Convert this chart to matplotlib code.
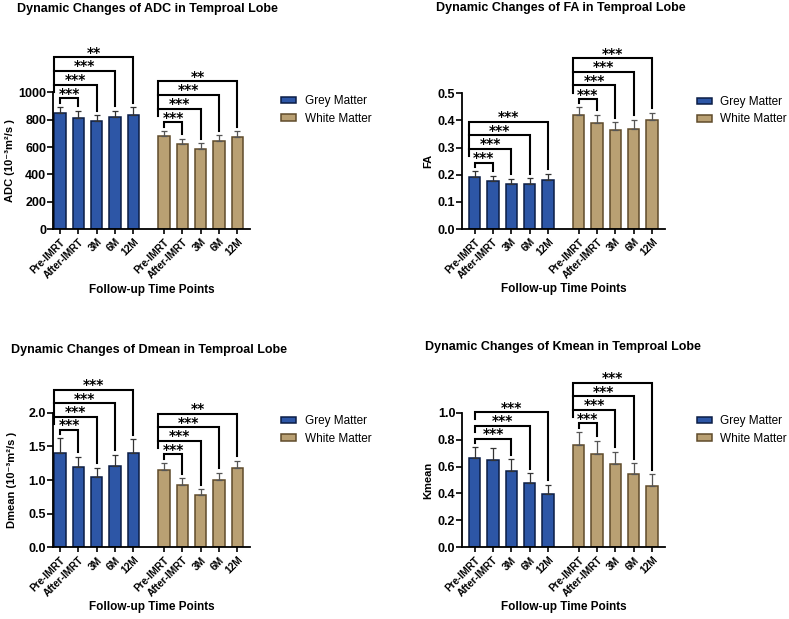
import matplotlib.pyplot as plt
import numpy as np

plt.rcParams['font.family'] = ['Liberation Sans', 'DejaVu Sans']

time_points = ["Pre-IMRT", "After-IMRT", "3M", "6M", "12M"]
groups = ["Grey Matter", "White Matter"]

# ADC
adc_grey = [846, 814, 788, 817, 834]
adc_grey_sd = [49, 49, 44, 46, 56]
adc_white = [680, 622, 585, 644, 675]
adc_white_sd = [39, 39, 42, 41, 40]
adc_grey_sig = ["***", "***", "***", "**"]
adc_white_sig = ["***", "***", "***", "**"]

# FA
fa_grey = [0.193, 0.177, 0.165, 0.166, 0.181]
fa_grey_sd = [0.021, 0.019, 0.020, 0.021, 0.022]
fa_white = [0.420, 0.389, 0.365, 0.368, 0.402]
fa_white_sd = [0.028, 0.031, 0.028, 0.034, 0.027]
fa_grey_sig = ["***", "***", "***", "***"]
fa_white_sig = ["***", "***", "***", "***"]

# Dmean
dmean_grey = [1.397, 1.198, 1.040, 1.208, 1.397]
dmean_grey_sd = [0.223, 0.148, 0.143, 0.163, 0.208]
dmean_white = [1.149, 0.926, 0.772, 1.000, 1.178]
dmean_white_sd = [0.108, 0.099, 0.090, 0.109, 0.104]
dmean_grey_sig = ["***", "***", "***", "***"]
dmean_white_sig = ["***", "***", "***", "**"]

# Kmean
kmean_grey = [0.661, 0.649, 0.569, 0.475, 0.394]
kmean_grey_sd = [0.082, 0.086, 0.085, 0.075, 0.069]
kmean_white = [0.760, 0.693, 0.619, 0.542, 0.458]
kmean_white_sd = [0.099, 0.097, 0.091, 0.082, 0.084]
kmean_grey_sig = [None, "***", "***", "***"]
kmean_white_sig = ["***", "***", "***", "***"]

blue, blue_edge = "#2d56a6", "#0b1d45"
tan, tan_edge = "#b9a073", "#5f4b2b"
bar_w = 0.62
xg = np.arange(5)
xw = xg + 5.67


def add_brackets(ax, x, tops, sig, ymax):
    step = 0.1 * ymax
    has_first = sig[0] is not None
    left_outer = x[0] - bar_w / 2 if has_first else x[0]
    h = None
    for k in range(1, 5):
        s = sig[k - 1]
        if s is None:
            continue
        if h is None:
            h = max(tops[:k + 1]) + 0.062 * ymax
        else:
            h = h + step
        xl = x[0] if k == 1 else left_outer
        xr = x[k]
        right_end = tops[k] + 0.035 * ymax
        if k == 1 or not has_first:
            left_end = max(h - 0.05 * ymax, tops[0] + 0.03 * ymax)
        elif k == 2:
            left_end = h - 0.055 * ymax
        else:
            left_end = h - step
        ax.plot([xl, xl, xr, xr], [left_end, h, h, right_end], color="black",
                lw=1.5, clip_on=False, solid_joinstyle="miter", zorder=5)
        ax.text((xl + xr) / 2, h + 0.004 * ymax, s, ha="center", va="baseline",
                family="DejaVu Sans", fontweight="bold", fontsize=10, clip_on=False)


def draw_panel(ax, grey, grey_sd, white, white_sd, grey_sig, white_sig,
               ymax, ystep, ylabel, x_left, ylabel_x):
    zeros = [0] * 5
    ax.bar(xg, grey, width=bar_w, color=blue, edgecolor=blue_edge, linewidth=1.1,
           yerr=[zeros, grey_sd], label=groups[0],
           error_kw=dict(ecolor="#333333", elinewidth=0.9, capsize=2.5, capthick=0.9))
    ax.bar(xw, white, width=bar_w, color=tan, edgecolor=tan_edge, linewidth=1.1,
           yerr=[zeros, white_sd], label=groups[1],
           error_kw=dict(ecolor="#555555", elinewidth=0.9, capsize=2.5, capthick=0.9))
    add_brackets(ax, xg, np.array(grey) + np.array(grey_sd), grey_sig, ymax)
    add_brackets(ax, xw, np.array(white) + np.array(white_sd), white_sig, ymax)

    ax.set_xlim(x_left, xw[-1] + 0.7)
    ax.set_ylim(0, ymax)
    yt = np.arange(0, ymax + ystep / 2, ystep)
    ax.set_yticks(yt)
    if ymax < 10:
        ax.set_yticklabels([f"{v:.1f}" for v in yt])
    ax.set_xticks(np.concatenate([xg, xw]))
    ax.set_xticklabels(time_points * 2, rotation=45, ha="right", rotation_mode="anchor",
                       fontsize=7.3, fontweight="bold")
    for t in ax.get_yticklabels():
        t.set_fontweight("bold")
        t.set_fontsize(9)
    ax.tick_params(axis="y", width=1.2, length=4, color="black", pad=1)
    ax.tick_params(axis="x", width=1.2, length=3.5, color="black", pad=2)
    ax.spines["top"].set_visible(False)
    ax.spines["right"].set_visible(False)
    ax.spines["left"].set_linewidth(1.3)
    ax.spines["bottom"].set_linewidth(1.3)
    ax.set_ylabel(ylabel, fontsize=8, fontweight="bold")
    ax.yaxis.set_label_coords(ylabel_x, 0.5)
    ax.set_xlabel("Follow-up Time Points", fontsize=8.5, fontweight="bold")
    ax.xaxis.set_label_coords(0.5, -0.40)
    ax.legend(loc="center left", bbox_to_anchor=(1.157, 0.872), frameon=False,
              fontsize=8.5, borderaxespad=0, borderpad=0, handlelength=1.3,
              handleheight=0.5, handletextpad=0.7, labelspacing=0.45)


fig = plt.figure(figsize=(7.89, 6.19), dpi=100)
ax1 = fig.add_axes([0.0672, 0.6300, 0.2497, 0.2208])
ax2 = fig.add_axes([0.5859, 0.6300, 0.2569, 0.2192])
ax3 = fig.add_axes([0.0672, 0.1158, 0.2497, 0.2174])
ax4 = fig.add_axes([0.5859, 0.1158, 0.2569, 0.2174])

draw_panel(ax1, adc_grey, adc_grey_sd, adc_white, adc_white_sd,
           adc_grey_sig, adc_white_sig, 1000, 200, "ADC (10⁻³m²/s )", -0.38, -0.193)
draw_panel(ax2, fa_grey, fa_grey_sd, fa_white, fa_white_sd,
           fa_grey_sig, fa_white_sig, 0.5, 0.1, "FA", -0.68, -0.145)
draw_panel(ax3, dmean_grey, dmean_grey_sd, dmean_white, dmean_white_sd,
           dmean_grey_sig, dmean_white_sig, 2.0, 0.5, "Dmean (10⁻³m²/s )", -0.38, -0.184)
draw_panel(ax4, kmean_grey, kmean_grey_sd, kmean_white, kmean_white_sd,
           kmean_grey_sig, kmean_white_sig, 1.0, 0.2, "Kmean", -0.68, -0.145)

fig.text(0.0215, 0.9855, "Dynamic Changes of ADC in Temproal Lobe", fontsize=9, fontweight="bold", va="center")
fig.text(0.5522, 0.9870, "Dynamic Changes of FA in Temproal Lobe", fontsize=9, fontweight="bold", va="center")
fig.text(0.0139, 0.4346, "Dynamic Changes of Dmean in Temproal Lobe", fontsize=9, fontweight="bold", va="center")
fig.text(0.5387, 0.4399, "Dynamic Changes of Kmean in Temproal Lobe", fontsize=9, fontweight="bold", va="center")

fig.savefig("out.png", dpi=100)
